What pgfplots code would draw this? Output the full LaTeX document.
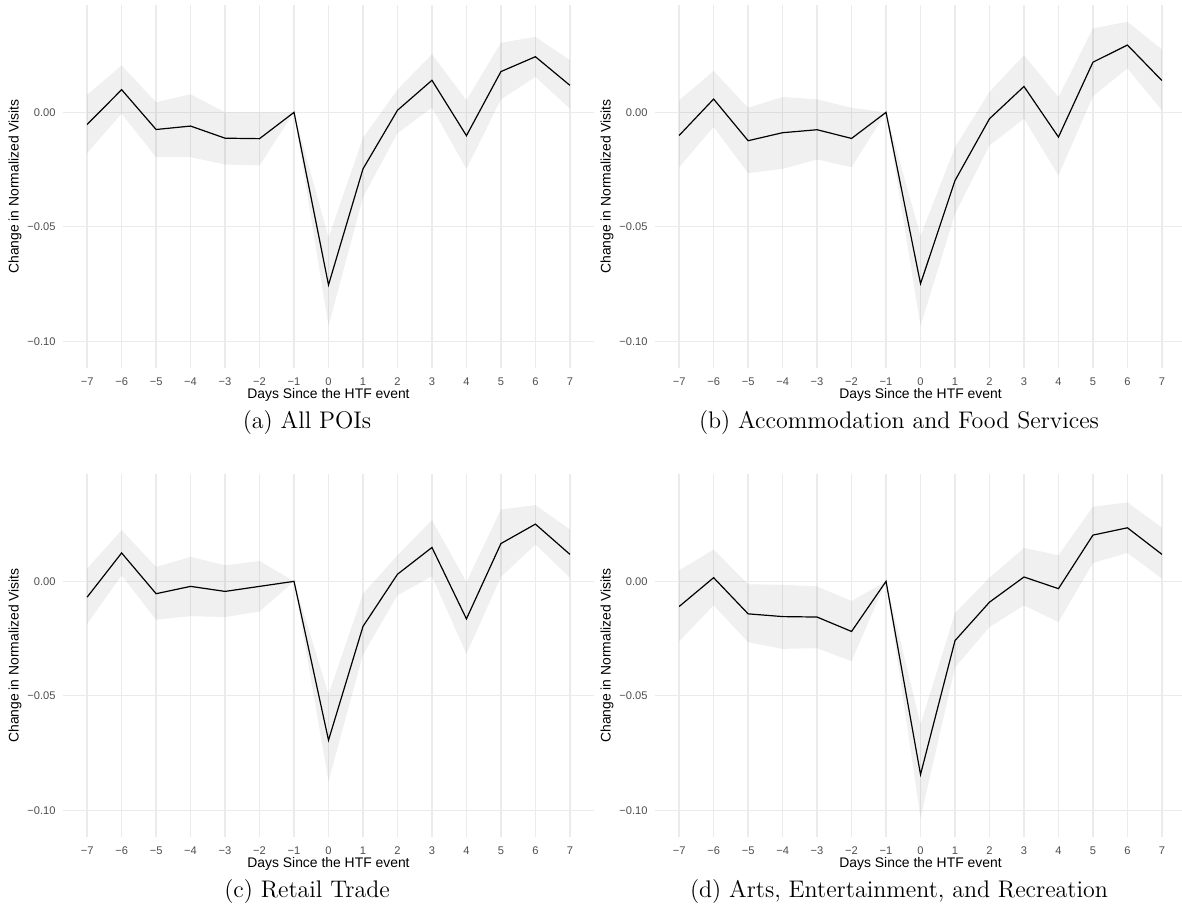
\documentclass[border=0pt]{standalone}
\usepackage{pgfplots}
\pgfplotsset{compat=1.18}
\usepackage{pgfplotstable}
\usepgfplotslibrary{fillbetween}
\usepackage{fontspec}
\newfontfamily\arial{Liberation Sans}
\definecolor{gridgray}{HTML}{EBEBEB}
\definecolor{ticktext}{HTML}{4D4D4D}

\pgfplotstableread{
x y lo hi
-7 -0.0053 -0.0178 0.0077
-6 0.0099 -0.0006 0.0205
-5 -0.0075 -0.0196 0.0044
-4 -0.0060 -0.0196 0.0079
-3 -0.0113 -0.0228 0.0000
-2 -0.0115 -0.0232 0.0000
-1 0 0 0
0 -0.0754 -0.0934 -0.0547
1 -0.0247 -0.0371 -0.0111
2 0.0009 -0.0091 0.0099
3 0.0140 0.0020 0.0254
4 -0.0102 -0.0247 0.0053
5 0.0178 0.0056 0.0304
6 0.0243 0.0155 0.0330
7 0.0118 0.0016 0.0228
}\dataA

\pgfplotstableread{
x y lo hi
-7 -0.0101 -0.0240 0.0053
-6 0.0058 -0.0064 0.0181
-5 -0.0124 -0.0266 0.0020
-4 -0.0089 -0.0247 0.0067
-3 -0.0076 -0.0206 0.0057
-2 -0.0114 -0.0240 0.0020
-1 0 0 0
0 -0.0749 -0.0934 -0.0539
1 -0.0298 -0.0444 -0.0152
2 -0.0028 -0.0145 0.0089
3 0.0113 -0.0028 0.0250
4 -0.0108 -0.0276 0.0067
5 0.0219 0.0070 0.0367
6 0.0294 0.0192 0.0396
7 0.0139 0.0009 0.0275
}\dataB

\pgfplotstableread{
x y lo hi
-7 -0.0069 -0.0186 0.0056
-6 0.0124 0.0026 0.0224
-5 -0.0054 -0.0168 0.0063
-4 -0.0022 -0.0152 0.0107
-3 -0.0044 -0.0156 0.0070
-2 -0.0022 -0.0132 0.0089
-1 0 0 0
0 -0.0694 -0.0873 -0.0493
1 -0.0197 -0.0320 -0.0054
2 0.0031 -0.0061 0.0114
3 0.0148 0.0022 0.0268
4 -0.0164 -0.0317 -0.0003
5 0.0165 0.0019 0.0314
6 0.0250 0.0161 0.0333
7 0.0118 0.0016 0.0227
}\dataC

\pgfplotstableread{
x y lo hi
-7 -0.0110 -0.0262 0.0048
-6 0.0016 -0.0105 0.0139
-5 -0.0142 -0.0266 -0.0013
-4 -0.0154 -0.0295 -0.0015
-3 -0.0156 -0.0292 -0.0022
-2 -0.0219 -0.0349 -0.0086
-1 0 0 0
0 -0.0844 -0.1034 -0.0624
1 -0.0259 -0.0376 -0.0139
2 -0.0091 -0.0200 0.0016
3 0.0019 -0.0105 0.0146
4 -0.0032 -0.0178 0.0114
5 0.0202 0.0080 0.0326
6 0.0234 0.0124 0.0345
7 0.0118 0.0012 0.0235
}\dataD

\pgfplotsset{
  panel/.style={
    scale only axis,
    width=265.5pt, height=181.5pt,
    anchor=south west,
    xmin=-7.7, xmax=7.7, ymin=-0.1117, ymax=0.0469,
    axis line style={draw=none},
    tick style={draw=none},
    grid=major,
    major grid style={color=gridgray, line width=0.65pt},
    xtick={-7,-6,-5,-4,-3,-2,-1,0,1,2,3,4,5,6,7},
    xticklabels={−7,−6,−5,−4,−3,−2,−1,0,1,2,3,4,5,6,7},
    ytick={-0.10,-0.05,0},
    yticklabels={−0.10,−0.05,0.00},
    tick label style={font=\arial\fontsize{5.56}{6.5}\selectfont, text=ticktext},
    xticklabel style={inner sep=0pt, anchor=north, yshift=-4.5pt},
    yticklabel style={inner sep=0pt, anchor=east, xshift=-3.5pt},
    label style={font=\arial\fontsize{6.95}{8}\selectfont, text=black},
    xlabel={Days Since the HTF event},
    ylabel={Change in Normalized Visits},
    xlabel style={at={(axis description cs:0.5,-0.0744)}, anchor=center, inner sep=0pt},
    ylabel style={at={(axis description cs:-0.0904,0.5)}, anchor=center, inner sep=0pt, rotate=0},
    clip=false,
  },
  ribbon/.style={fill=black, fill opacity=0.06, draw=none},
  est/.style={black, line width=0.6pt, mark=none},
}

\newcommand{\panel}[1]{%
  \addplot[draw=none, name path=hi, forget plot] table[x=x, y=hi] {#1};
  \addplot[draw=none, name path=lo, forget plot] table[x=x, y=lo] {#1};
  \addplot[ribbon] fill between[of=hi and lo];
  \addplot[est] table[x=x, y=y] {#1};
}

\begin{document}
\begin{tikzpicture}
\begin{axis}[panel, at={(31.5pt,-184pt)}]
\panel{\dataA}
\end{axis}
\begin{axis}[panel, at={(327.5pt,-184pt)}]
\panel{\dataB}
\end{axis}
\begin{axis}[panel, at={(31.5pt,-418.5pt)}]
\panel{\dataC}
\end{axis}
\begin{axis}[panel, at={(327.5pt,-418.5pt)}]
\panel{\dataD}
\end{axis}
\node[font=\fontsize{12}{14}\selectfont, inner sep=0pt] at (153.5pt,-211.5pt) {(a) All POIs};
\node[font=\fontsize{12}{14}\selectfont, inner sep=0pt] at (449.5pt,-211.5pt) {(b) Accommodation and Food Services};
\node[font=\fontsize{12}{14}\selectfont, inner sep=0pt] at (153.5pt,-446pt) {(c) Retail Trade};
\node[font=\fontsize{12}{14}\selectfont, inner sep=0pt] at (449.5pt,-446pt) {(d) Arts, Entertainment, and Recreation};
\pgfresetboundingbox
\useasboundingbox (0,0) rectangle (591pt,-456.5pt);
\end{tikzpicture}
\end{document}
